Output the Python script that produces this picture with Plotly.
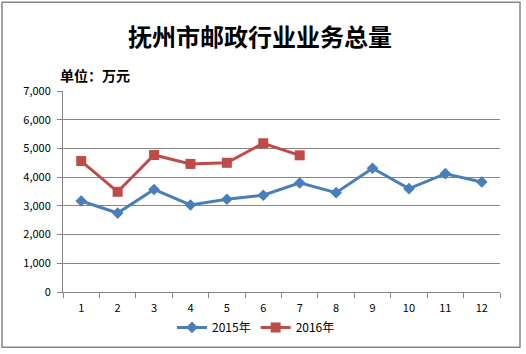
import plotly.graph_objects as go

months = ["1", "2", "3", "4", "5", "6", "7", "8", "9", "10", "11", "12"]
y2015 = [3170, 2750, 3570, 3030, 3230, 3370, 3800, 3460, 4310, 3600, 4120, 3830]
y2016 = [4560, 3490, 4770, 4460, 4500, 5180, 4760]
yticks = [0, 1000, 2000, 3000, 4000, 5000, 6000, 7000]

W, H = 526, 354
L, R, T, B = 63, 26, 91, 59
pw, ph = W - L - R, H - T - B

fig = go.Figure()
fig.add_trace(go.Scatter(x=months, y=y2015, name="2015年", mode="lines+markers",
                         line=dict(color="#4a7ebb", width=3),
                         marker=dict(symbol="diamond", size=9, color="#4a7ebb")))
fig.add_trace(go.Scatter(x=months[:len(y2016)], y=y2016, name="2016年", mode="lines+markers",
                         line=dict(color="#be4b48", width=3),
                         marker=dict(symbol="square", size=10, color="#be4b48")))

font = "Noto Sans CJK SC"
fig.update_layout(
    width=W, height=H,
    margin=dict(l=L, r=R, t=T, b=B),
    paper_bgcolor="white", plot_bgcolor="white",
    font=dict(family=font, size=11, color="#000000"),
    title=dict(text="<b>抚州市邮政行业业务总量</b>", x=(260) / W, xanchor="center",
               y=1 - 38 / H, yanchor="middle", font=dict(size=24, family=font, color="#000")),
    showlegend=True,
    legend=dict(orientation="h", x=(256 - L) / pw, xanchor="center", y=-(331 - 295) / ph, yanchor="middle",
                font=dict(size=12, family=font), traceorder="normal"),
    xaxis=dict(type="category", tickson="boundaries", ticks="outside", ticklen=5,
               tickcolor="#868686", showline=True, linecolor="#868686", linewidth=1,
               showgrid=False, tickfont=dict(size=11), range=[-0.5, 11.5], ticklabelstandoff=6),
    yaxis=dict(range=[0, 7000], tickvals=yticks, tickformat=",", ticks="outside", ticklen=5,
               tickcolor="#868686", showline=True, linecolor="#868686", linewidth=1,
               showgrid=True, gridcolor="#868686", gridwidth=1, tickfont=dict(size=11),
               zeroline=False, ticklabelstandoff=4),
    annotations=[dict(text="<b>单位：万元</b>", xref="paper", yref="paper",
                      x=(58 - L) / pw, y=(295 - 75) / ph, xanchor="left", yanchor="middle",
                      showarrow=False, font=dict(size=14, family=font, color="#000"))],
    shapes=[dict(type="rect", xref="paper", yref="paper",
                 x0=(2 - L) / pw, x1=(520 - L) / pw, y0=(295 - 351) / ph, y1=(295 - 1) / ph,
                 line=dict(color="#868686", width=1.5), layer="below")],
)

fig.write_html("out.html")
